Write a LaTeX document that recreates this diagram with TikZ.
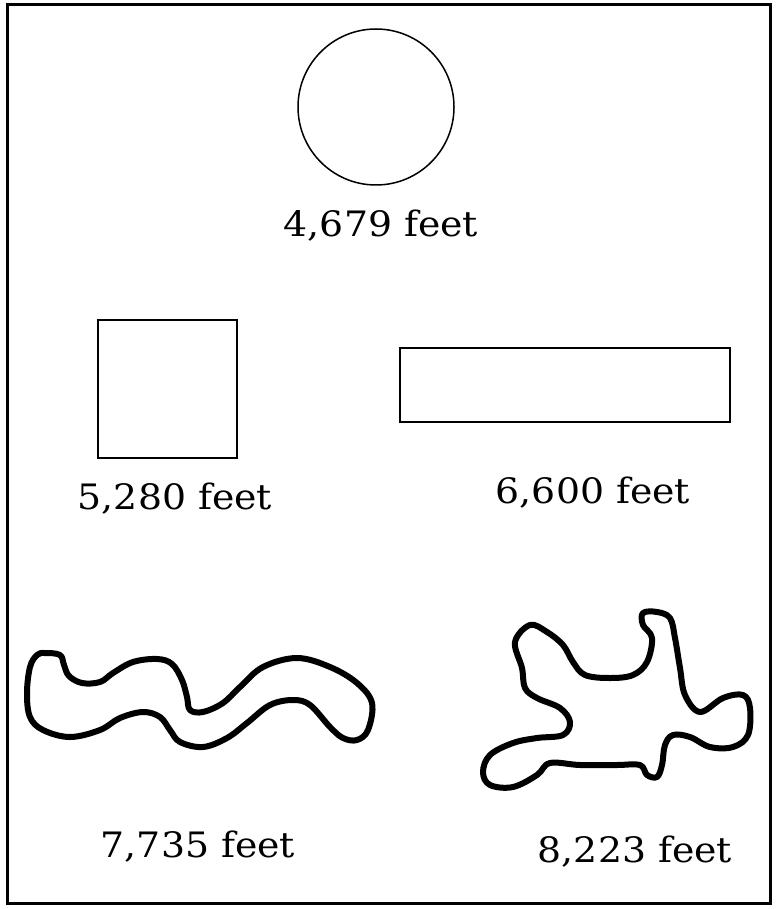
\documentclass[tikz,border=0pt]{standalone}
\usepackage{fontspec}
\setmainfont{DejaVu Serif}[FakeStretch=1.08]
\usetikzlibrary{positioning}
\tikzset{
  lbl/.style={font=\fontsize{35}{40}\selectfont,inner sep=0pt},
  blob/.style={line width=6pt,line join=round},
}
\begin{document}
\begin{tikzpicture}[x=1pt,y=-1pt]
  \useasboundingbox (0,0) rectangle (777,909);
  \draw[line width=3pt] (7,5) rectangle (770,903);
  % circle and its length
  \draw[line width=1.5pt] (376,107) circle (78);
  \node[lbl] (circlen) at (381,226) {4,679 feet};
  % square and rectangle
  \draw[line width=1.5pt] (98,320) rectangle (237,458);
  \node[lbl] (sqlen) at (175,499) {5,280 feet};
  \draw[line width=1.5pt] (400,348) rectangle (730,422);
  \node[lbl] (rectlen) at (593,493) {6,600 feet};
  % wavy outline
  \draw[blob] plot[smooth cycle,tension=0.6] coordinates {
    (37,655) (45,653) (60,655) (64,665) (69,676) (82,683) (100,682)
    (113,673) (133,662) (157,659) (172,664) (182,680) (187,697) (190,710)
    (203,712) (223,703) (240,687) (263,667) (297,658) (330,667) (357,683)
    (372,703) (368,730) (357,740) (343,738) (330,727) (310,705) (293,700)
    (270,705) (247,723) (227,738) (203,747) (180,742) (170,730) (160,717)
    (143,712) (120,718) (100,730) (70,737) (43,730) (30,717) (27,693) (30,667)};
  \node[lbl] (wavelen) at (198,847) {7,735 feet};
  % branching outline
  \draw[blob] plot[smooth cycle,tension=0.6] coordinates {
    (530,625) (547,632) (563,645) (573,662) (585,675) (610,678) (633,675)
    (647,662) (652,638) (643,625) (643,613) (657,612) (670,618) (675,638)
    (680,668) (685,695) (700,712) (723,698) (743,695) (750,708) (748,735)
    (733,747) (710,747) (690,737) (673,735) (665,745) (662,765) (657,777)
    (647,775) (640,765) (617,765) (580,765) (550,763) (537,775) (513,787)
    (490,785) (483,772) (490,755) (513,743) (537,738) (563,735) (570,722)
    (560,708) (537,698) (525,688) (522,668) (515,642)};
  \node[lbl] (starlen) at (635,852) {8,223 feet};
\end{tikzpicture}
\end{document}
